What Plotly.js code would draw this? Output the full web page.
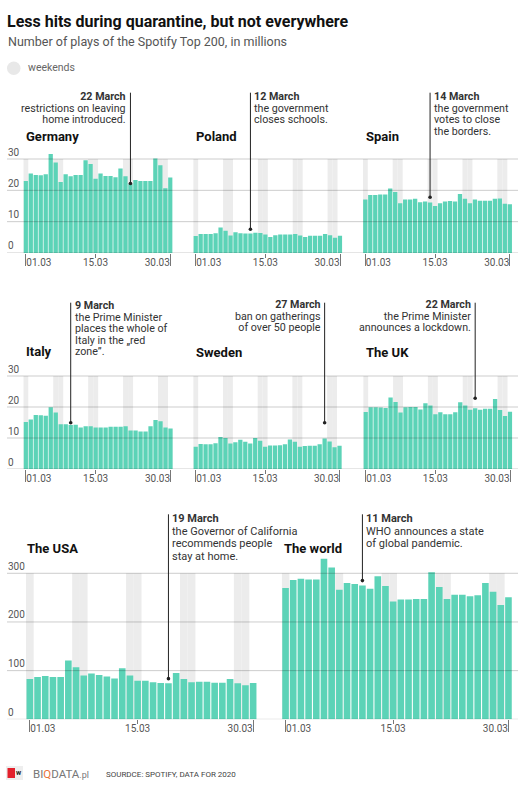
<!DOCTYPE html>
<html><head><meta charset="utf-8">
<script src="https://cdn.plot.ly/plotly-3.0.1.min.js"></script>
<style>html,body{margin:0;padding:0;background:#fff}#chart{width:523px;height:800px}</style>
</head><body><div id="chart"></div>
<script>
// ---------------- DATA ----------------
const days = [1,2,3,4,5,6,7,8,9,10,11,12,13,14,15,16,17,18,19,20,21,22,23,24,25,26,27,28,29,30];
const tickDays = [1, 15, 30];
const tickLabels = ['01.03', '15.03', '30.03'];
const weekendDays = [1, 7, 8, 14, 15, 21, 22, 28, 29];

const countries = ['Germany', 'Poland', 'Spain', 'Italy', 'Sweden', 'The UK', 'The USA', 'The world'];

const germany = [23.0,25.4,24.9,24.8,25.1,31.6,28.9,22.7,25.1,24.5,24.9,24.9,29.6,28.4,23.7,25.4,24.6,24.6,24.2,27.0,24.5,22.1,23.3,23.0,23.0,23.0,30.2,28.0,20.7,24.1];
const poland  = [5.4,6.1,6.1,6.1,6.3,8.1,7.1,5.6,6.6,6.3,6.2,6.2,6.5,6.4,5.9,5.1,5.7,5.9,5.9,5.9,6.1,5.6,5.1,5.5,5.5,5.5,6.1,5.7,4.9,5.5];
const spain   = [17.1,18.5,18.5,18.7,18.7,20.6,19.5,15.9,17.1,17.1,17.3,16.2,16.4,16.1,15.0,15.9,16.4,16.6,16.4,18.8,17.3,15.9,17.1,16.7,16.7,16.7,17.3,17.4,15.7,15.6];
const italy   = [15.2,16.0,17.4,17.3,17.2,19.9,18.2,14.4,14.4,14.2,14.3,13.4,13.8,13.8,13.4,13.4,13.4,13.6,13.6,13.6,13.8,12.4,12.4,12.1,12.1,13.8,15.8,15.4,13.4,13.1];
const sweden  = [7.2,8.1,8.0,8.0,8.3,10.3,10.0,8.2,8.6,9.4,8.8,8.2,10.0,9.1,7.2,7.6,7.6,7.7,8.0,9.5,8.8,7.2,7.4,7.5,7.5,8.0,9.8,8.9,7.0,7.5];
const uk      = [18.4,19.9,19.9,19.8,19.7,23.1,21.6,18.2,19.9,20.0,20.0,19.2,21.2,20.5,17.7,18.3,17.7,17.7,18.3,21.5,20.5,19.1,19.6,19.1,19.4,19.4,22.6,19.0,17.1,18.5];
const usa     = [83,87,89,87,87,121,107,90,94,91,88,84,105,90,79,79,76,74.5,74,95,83,76,77,77,75,75,83,74,70,74.5];
const world   = [270,286,289,287,287,330,312,266,280,278,275,268,294,274,242,246,246,247,247,302,272,247,256,256,253,255,280,262,235,251];
const seriesList = [germany, poland, spain, italy, sweden, uk, usa, world];

const eventDays = [22, 12, 14, 10, 27, 23, 19, 11];
const eventMarkerValues = [22.2, 7.6, 17.8, 14.9, 14.9, 22.8, 83.5, 285];
const eventLines = [
  ['22 March', 'restrictions on leaving', 'home introduced.'],
  ['12 March', 'the government', 'closes schools.'],
  ['14 March', 'the government', 'votes to close', 'the borders.'],
  ['9 March', 'the Prime Minister', 'places the whole of', 'Italy in the \u201Ered', 'zone\u201D.'],
  ['27 March', 'ban on gatherings', 'of over 50 people'],
  ['22 March', 'the Prime Minister', 'announces a lockdown.'],
  ['19 March', 'the Governor of California', 'recommends people', 'stay at home.'],
  ['11 March', 'WHO announces a state', 'of global pandemic.']
];

const gridSmall = [0, 10, 20, 30];
const gridLarge = [0, 100, 200, 300];
const legendLabel = 'weekends';

// ---------------- LAYOUT CONFIG (pixels) ----------------
const W = 523, H = 800;
const TEAL = '#5cd3b7';
const BAND = '#ececec';
const rows = [
  {yid: 'y',  key: 'yaxis',  grid: gridSmall, range: [0, 37],  bottom: 253,   pxPerUnit: 3.133,  lineTop: 91.7,  textBase: 8.85, textSize: 10.7},
  {yid: 'y2', key: 'yaxis2', grid: gridSmall, range: [0, 37],  bottom: 469,   pxPerUnit: 3.1,    lineTop: 301.7, textBase: 8.85, textSize: 10.7},
  {yid: 'y3', key: 'yaxis3', grid: gridLarge, range: [0, 370], bottom: 719.3, pxPerUnit: 0.4867, lineTop: 513.3, textBase: 9.8,  textSize: 11}
];
const panels = [
  {row: 0, x0: 23.3,  x1: 172.8, tx: 24,    ty: 136,   side: 'right', textTop: 89},
  {row: 0, x0: 193.2, x1: 342.5, tx: 194,   ty: 136,   side: 'left',  textTop: 89},
  {row: 0, x0: 362.8, x1: 512.3, tx: 364,   ty: 136,   side: 'left',  textTop: 89},
  {row: 1, x0: 23.3,  x1: 173.0, tx: 24,    ty: 351,   side: 'left',  textTop: 298},
  {row: 1, x0: 193.2, x1: 342.0, tx: 194,   ty: 352.5, side: 'right', textTop: 297.5},
  {row: 1, x0: 363.2, x1: 512.5, tx: 364,   ty: 352.5, side: 'right', textTop: 297.5},
  {row: 2, x0: 26.0,  x1: 257.0, tx: 25,    ty: 548.3, side: 'left',  textTop: 511},
  {row: 2, x0: 281.7, x1: 512.3, tx: 282.3, ty: 548.3, side: 'left',  textTop: 511}
];

const traces = [];
const layout = {
  width: W, height: H,
  margin: {l: 0, r: 0, t: 0, b: 0},
  paper_bgcolor: '#ffffff', plot_bgcolor: 'rgba(0,0,0,0)',
  font: {family: 'Roboto, sans-serif', color: '#333'},
  barmode: 'overlay', hovermode: false, showlegend: false,
  title: {
    text: '<b>Less hits during quarantine, but not everywhere</b>',
    x: 7 / W, xanchor: 'left', y: 1 - 21.5 / H, yanchor: 'middle',
    font: {size: 16, color: '#111', family: 'Roboto, sans-serif'}
  },
  annotations: [], shapes: []
};

// subtitle
layout.annotations.push({
  xref: 'paper', yref: 'paper', x: 6 / W, y: 1 - 41 / H, xanchor: 'left', yanchor: 'middle',
  text: 'Number of plays of the Spotify Top 200, in millions', showarrow: false,
  font: {size: 12.5, color: '#555'}
});

// weekends key
layout.shapes.push({type: 'circle', xref: 'paper', yref: 'paper', x0: 7 / W, x1: 20.5 / W, y0: 1 - 75 / H, y1: 1 - 61.5 / H, fillcolor: '#e8e8e8', line: {width: 0}});
layout.annotations.push({
  xref: 'paper', yref: 'paper', x: 26 / W, y: 1 - 68 / H, xanchor: 'left', yanchor: 'middle',
  text: legendLabel, showarrow: false, font: {size: 10.5, color: '#666'}
});

// y axes (one per row, shared by its panels)
rows.forEach(r => {
  r.top = r.bottom - r.range[1] * r.pxPerUnit;
  layout[r.key] = {
    domain: [1 - r.bottom / H, 1 - r.top / H], range: r.range,
    anchor: 'free', position: 4 / W,
    tickvals: r.grid, ticktext: r.grid.map(String),
    showgrid: false, zeroline: false, showline: false, ticks: '',
    ticklabelposition: 'inside top',
    tickfont: {size: 10, color: '#555'}, fixedrange: true
  };
  // grid lines drawn above bars, spanning the whole row
  r.grid.forEach(v => {
    layout.shapes.push({
      type: 'line', xref: 'paper', yref: r.yid, x0: 7 / W, x1: 518 / W, y0: v, y1: v,
      layer: 'above', line: {color: 'rgba(0,0,0,0.2)', width: 1}
    });
  });
});

function axisId(n) { return n === 1 ? 'x' : 'x' + n; }
function axisKey(n) { return n === 1 ? 'xaxis' : 'xaxis' + n; }

panels.forEach((p, i) => {
  const r = rows[p.row];
  const n0 = i * 3 + 1;
  const ids = [axisId(n0), axisId(n0 + 1), axisId(n0 + 2)];
  const keys = [axisKey(n0), axisKey(n0 + 1), axisKey(n0 + 2)];
  const dom = [p.x0 / W, p.x1 / W];
  const base = {
    range: [0.5, 30.5], anchor: r.yid, domain: dom,
    showgrid: false, zeroline: false, showline: false,
    ticks: 'outside', tickcolor: '#777', tickwidth: 1,
    tickfont: {size: 10, color: '#555'}, fixedrange: true
  };
  layout[keys[0]] = Object.assign({}, base, {tickvals: [tickDays[1]], ticktext: [tickLabels[1]], ticklen: 4, ticklabelstandoff: -4});
  layout[keys[1]] = Object.assign({}, base, {overlaying: ids[0], tickvals: [tickDays[0]], ticktext: [tickLabels[0]], ticklen: 12, ticklabelposition: 'outside right', ticklabelstandoff: 0});
  layout[keys[2]] = Object.assign({}, base, {overlaying: ids[0], tickvals: [tickDays[2]], ticktext: [tickLabels[2]], ticklen: 12, ticklabelposition: 'outside left', ticklabelstandoff: 0});

  // weekend bands
  traces.push({
    type: 'bar', x: weekendDays, y: weekendDays.map(() => r.grid[r.grid.length - 1]),
    xaxis: ids[0], yaxis: r.yid, width: 1, marker: {color: BAND},
    showlegend: false, hoverinfo: 'skip', name: legendLabel
  });
  // data bars
  traces.push({
    type: 'bar', x: days, y: seriesList[i], name: countries[i],
    xaxis: ids[0], yaxis: r.yid, width: 0.86, marker: {color: TEAL},
    showlegend: false, hoverinfo: 'skip'
  });
  // empty traces so overlay axes render
  traces.push({type: 'scatter', x: [], y: [], xaxis: ids[1], yaxis: r.yid, showlegend: false, hoverinfo: 'skip'});
  traces.push({type: 'scatter', x: [], y: [], xaxis: ids[2], yaxis: r.yid, showlegend: false, hoverinfo: 'skip'});

  // panel title
  layout.annotations.push({
    xref: 'paper', yref: 'paper', x: p.tx / W, y: 1 - p.ty / H, xanchor: 'left', yanchor: 'middle',
    text: '<b>' + countries[i] + '</b>', showarrow: false, font: {size: 13, color: '#111'}
  });

  // event line with dot
  layout.annotations.push({
    xref: ids[0], yref: r.yid, x: eventDays[i], y: eventMarkerValues[i],
    text: ' ', font: {size: 1}, borderpad: 0,
    showarrow: true, arrowhead: 6, arrowsize: 0.9, arrowwidth: 1, arrowcolor: '#222',
    axref: 'pixel', ax: 0, ayref: r.yid, ay: (r.bottom - r.lineTop) / r.pxPerUnit, standoff: 0
  });

  // event text
  const lines = eventLines[i].map((t, k) =>
    '<span style="font-size:' + r.textSize + 'px">' + (k === 0 ? '<b>' + t + '</b>' : t) + '</span>');
  layout.annotations.push({
    xref: ids[0], yref: 'paper', x: eventDays[i], xshift: p.side === 'left' ? 3 : -3,
    xanchor: p.side, align: p.side, y: 1 - p.textTop / H, yanchor: 'top',
    text: lines.join('<br>'), showarrow: false, borderpad: 0,
    font: {size: r.textBase, color: '#333'}
  });
});

// footer
layout.shapes.push({type: 'rect', xref: 'paper', yref: 'paper', x0: 6 / W, x1: 23 / W, y0: 1 - 780 / H, y1: 1 - 766 / H, fillcolor: '#eeeeee', line: {width: 0}});
layout.shapes.push({type: 'rect', xref: 'paper', yref: 'paper', x0: 7.5 / W, x1: 15 / W, y0: 1 - 778 / H, y1: 1 - 768 / H, fillcolor: '#e3202b', line: {width: 0}});
layout.annotations.push({xref: 'paper', yref: 'paper', x: 19 / W, y: 1 - 773 / H, xanchor: 'center', yanchor: 'middle', text: '<b>w</b>', showarrow: false, font: {size: 7, color: '#222'}});
layout.annotations.push({xref: 'paper', yref: 'paper', x: 31 / W, y: 1 - 773.5 / H, xanchor: 'left', yanchor: 'middle', showarrow: false,
  text: 'BI<span style="color:#e8733a">Q</span>DATA<span style="font-size:9px">.pl</span>', font: {size: 11.5, color: '#777'}});
layout.annotations.push({xref: 'paper', yref: 'paper', x: 104 / W, y: 1 - 774 / H, xanchor: 'left', yanchor: 'middle', showarrow: false,
  text: 'SOURDCE: SPOTIFY, DATA FOR 2020', font: {size: 8, color: '#444'}});

Plotly.newPlot('chart', traces, layout, {displayModeBar: false, staticPlot: true});
</script>
</body></html>
